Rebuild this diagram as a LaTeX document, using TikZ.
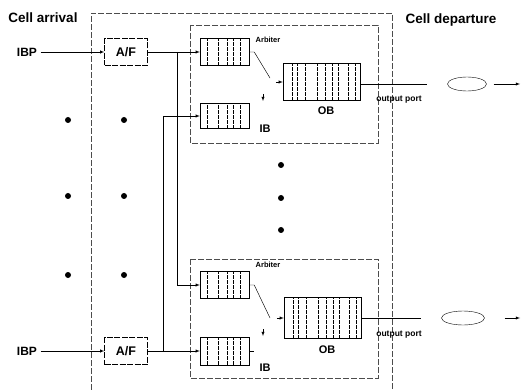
\documentclass[tikz,border=0pt]{standalone}
\usepackage{fontspec}
\setmainfont{Liberation Sans}
\usepackage{tikz}
\usetikzlibrary{arrows.meta,calc,positioning,shapes.geometric}

\begin{document}
\begin{tikzpicture}[x=1pt, y=-1pt,
  frame/.style={gray!60!black, dash pattern=on 6pt off 2pt, line width=0.4pt},
  link/.style={line width=0.45pt},
  afbox/.style={draw, dash pattern=on 6pt off 1.5pt, minimum width=43pt, minimum height=27pt, inner sep=0pt, font=\bfseries\fontsize{12.5}{14}\selectfont},
  queue/.style={draw, line width=0.45pt, inner sep=0pt},
  bar/.style={line width=0.4pt, dash pattern=on 4pt off 1pt},
  outport/.style={draw, ellipse, line width=0.4pt, inner sep=0pt},
  big/.style={font=\bfseries\fontsize{13.5}{15}\selectfont},
  small/.style={font=\bfseries\fontsize{7.5}{9}\selectfont},
  mid/.style={font=\bfseries\fontsize{11}{13}\selectfont}]
\useasboundingbox (0,0) rectangle (522,390);
% --- cornici: sistema e switch ---
\draw[frame] (91,390) -- (91,13) -- (392,13) -- (392,390);
\draw[frame] (190,25) rectangle (378,143);
\draw[frame] (190,259) rectangle (378,378);
% --- titoli ---
\node[big] (arr) at (43,18) {Cell arrival};
\node[big] (dep) at (451,20) {Cell departure};
% --- ingressi ---
\node[font=\bfseries\fontsize{12}{14}\selectfont] (ibp1) at (27,52) {IBP};
\node[font=\bfseries\fontsize{12}{14}\selectfont] (ibp2) at (27,351) {IBP};
\node[afbox] (af1) at (126,52) {A/F};
\node[afbox] (af2) at (126,351) {A/F};
% --- code di ingresso e di uscita ---
\node[queue, minimum width=49pt, minimum height=27pt] (ib11) at (224.5,52) {};
\node[queue, minimum width=49pt, minimum height=25pt] (ib12) at (224.5,116) {};
\node[queue, minimum width=49pt, minimum height=27pt] (ib21) at (224.5,285) {};
\node[queue, minimum width=49pt, minimum height=28pt] (ib22) at (224.5,351) {};
\node[queue, minimum width=77pt, minimum height=37pt] (ob1) at (321.5,82) {};
\node[queue, minimum width=77pt, minimum height=41pt] (ob2) at (322.5,318) {};
\foreach \q in {ib11,ib12,ib21,ib22}
  \foreach \f in {0.16,0.37,0.55,0.67,0.82}
    \draw[bar] ($(\q.south west)!\f!(\q.south east)$) -- ($(\q.north west)!\f!(\q.north east)$);
\foreach \q in {ob1,ob2}
  \foreach \f in {0.12,0.18,0.29,0.45,0.55,0.64,0.71,0.84,0.94}
    \draw[bar] ($(\q.south west)!\f!(\q.south east)$) -- ($(\q.north west)!\f!(\q.north east)$);
% --- etichette degli switch ---
\node[small] (arb1) at (268,40) {Arbiter};
\node[small] (arb2) at (268,265) {Arbiter};
\node[mid] (ibl1) at (265,129) {IB};
\node[mid] (ibl2) at (265,368) {IB};
\node[mid] (obl1) at (326,111) {OB};
\node[mid] (obl2) at (327,350) {OB};
\node[font=\bfseries\fontsize{8.5}{10}\selectfont] (op1) at (399,100) {output port};
\node[font=\bfseries\fontsize{8.5}{10}\selectfont] (op2) at (399,335) {output port};
% --- collegamenti ---
\coordinate (j1) at (177,52);
\coordinate (j2) at (163,351);
\draw[link,-latex] (ibp1.east) -- (af1.west);
\draw[link,-latex] (ibp2.east) -- (af2.west);
\draw[link,-latex] (af1.east) -- (ib11.west);
\draw[link,-latex] (af2.east) -- (ib22.west);
\draw[link,-latex] (j1) |- (ib21.west);
\draw[link,-latex] (j2) |- (ib12.west);
% --- arbitri ---
\coordinate (sw1) at (270,78);
\coordinate (sw2) at (270,318);
\coordinate (dn1) at (263,101);
\coordinate (dn2) at (263,336);
\draw[link] (ib11.east) -- ++(5,0) -- (sw1);
\draw[link] (ib21.east) -- ++(5,0) -- (sw2);
\draw[link] (ib22.east) -- ++(5,0);
\draw[link,-latex] ([xshift=-7pt]ob1.west) -- (ob1.west);
\draw[link,-latex] ([xshift=-7pt]ob2.west) -- (ob2.west);
\draw[link,-latex] ([yshift=7pt]dn1) -- (dn1);
\draw[link,-latex] ([yshift=7pt]dn2) -- (dn2);
% --- porte di uscita ---
\node[outport, minimum width=39pt, minimum height=14pt] (out1) at (467,84) {};
\node[outport, minimum width=43pt, minimum height=14pt] (out2) at (463,318) {};
\coordinate (end1) at (520,84);
\coordinate (end2) at (520,318);
\draw[link, shorten >=20pt] (ob1.east |- out1.west) -- (out1.west);
\draw[link, shorten >=20pt] (ob2.east |- out2.west) -- (out2.west);
\draw[link,-latex, shorten <=7pt] (out1.east) -- (end1);
\draw[link,-latex, shorten <=20pt] (out2.east) -- (end2);
% --- puntini ---
\foreach \x/\y in {68/120,124/120,68/196,124/196,68/275,124/275,281/165,281/198,281/230}
  \fill (\x,\y) circle (3pt);
\end{tikzpicture}
\end{document}
